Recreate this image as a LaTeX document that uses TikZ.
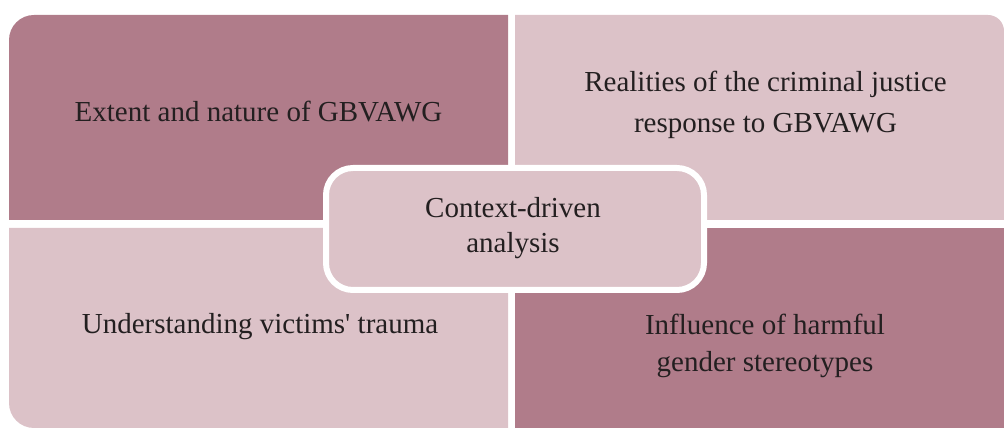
\documentclass[tikz,border=0pt]{standalone}
\usepackage{fontspec}
\setmainfont{Liberation Serif}
\definecolor{mauvedark}{RGB}{176,124,138}
\definecolor{mauvelight}{RGB}{220,194,200}
\definecolor{inktext}{RGB}{35,31,32}
\begin{document}
\begin{tikzpicture}[x=1pt,y=1pt,
  lbl/.style={anchor=base,inner sep=0pt,text=inktext,font=\fontsize{29}{35}\selectfont}]
\useasboundingbox (0,0) rectangle (1004,428);
% quadrants
\fill[mauvedark] (9,208) -- (9,388) arc[start angle=180,end angle=90,radius=25] -- (508,413) -- (508,208) -- cycle;
\fill[mauvelight] (515,208) -- (515,413) -- (988,413) arc[start angle=90,end angle=0,radius=16] -- (1004,208) -- cycle;
\fill[mauvelight] (9,200) -- (9,25) arc[start angle=180,end angle=270,radius=25] -- (508,0) -- (508,200) -- cycle;
\fill[mauvedark] (515,0) rectangle (1004,200);
% centre box
\node[draw=white,line width=6pt,fill=mauvelight,rounded corners=27pt,
  minimum width=378pt,minimum height=122pt,inner sep=0pt] (ctr) at (515,199) {};
% labels
\node[lbl] (tl) at (258.5,306) {Extent and nature of GBVAWG};
\node[lbl] (tr1) at (765.5,336) {Realities of the criminal justice};
\node[lbl] (tr2) at (765.5,295) {response to GBVAWG};
\node[lbl] (c1) at (513,210) {Context-driven};
\node[lbl] (c2) at (513,175) {analysis};
\node[lbl] (bl) at (260,94) {Understanding victims\textquotesingle{} trauma};
\node[lbl] (br1) at (765,93) {Influence of harmful};
\node[lbl] (br2) at (765,56) {gender stereotypes};
\end{tikzpicture}
\end{document}
